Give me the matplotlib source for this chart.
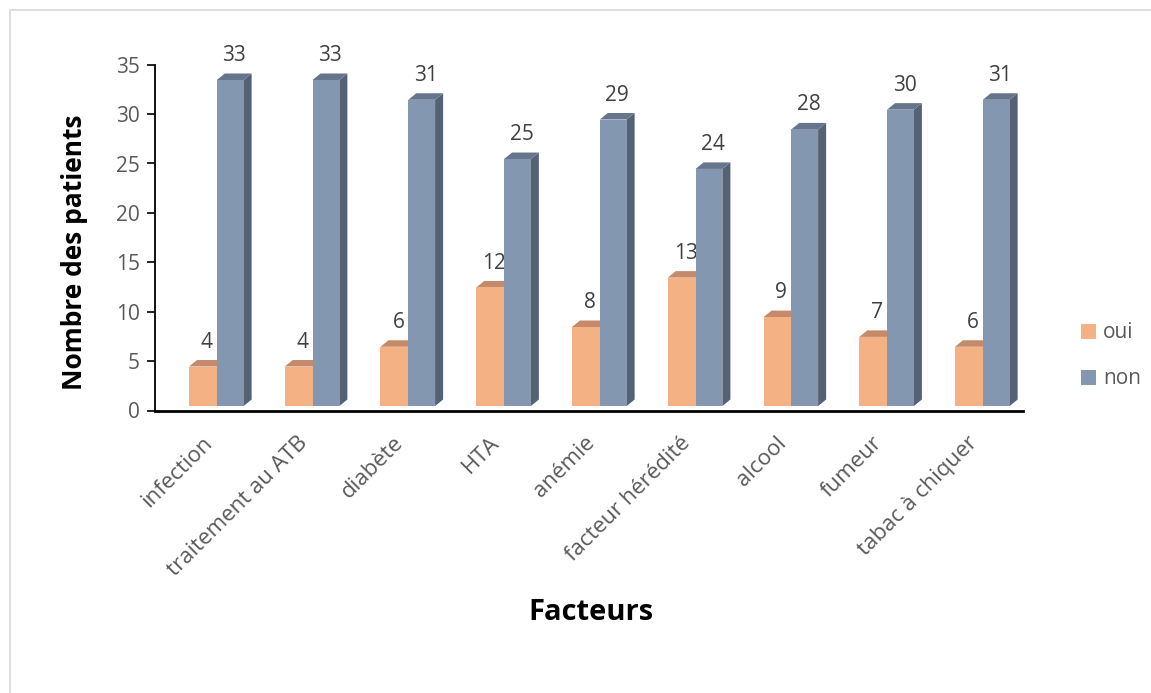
import numpy as np
import matplotlib
matplotlib.use("Agg")
import matplotlib.pyplot as plt
from matplotlib.patches import Polygon, Rectangle, Patch

plt.rcParams['font.family'] = ['Open Sans', 'DejaVu Sans']

# data
categories = ["infection", "traitement au ATB", "diabète", "HTA", "anémie",
              "facteur hérédité", "alcool", "fumeur", "tabac à chiquer"]
oui = [4, 4, 6, 12, 8, 13, 9, 7, 6]
non = [33, 33, 31, 25, 29, 24, 28, 30, 31]
series_names = ["oui", "non"]

# styles: front, top, side
c_oui = ("#F4B183", "#C48A69", "#A8735A")
c_non = ("#8497B0", "#65758C", "#556275")
txt_dark = "#404040"
txt_gray = "#595959"
fs = 15

fig = plt.figure(figsize=(11.51, 6.93), dpi=100)
ax = fig.add_axes([155/1151, 282.5/693, 868/1151, 345.8/693])

base = 0.45
dx, dy = 0.084, 0.66
w_oui, w_non = 0.29, 0.28


def bar3d(x0, w, val, cols):
    front, top, side = cols
    ax.add_patch(Polygon([(x0 + w, base), (x0 + w + dx, base + dy),
                          (x0 + w + dx, base + val + dy), (x0 + w, base + val)],
                         closed=True, fc=side, ec='none', zorder=2))
    ax.add_patch(Polygon([(x0, base + val), (x0 + dx, base + val + dy),
                          (x0 + w + dx, base + val + dy), (x0 + w, base + val)],
                         closed=True, fc=top, ec='none', zorder=2))
    ax.add_patch(Rectangle((x0, base), w, val, fc=front, ec='none', zorder=3))
    ax.text(x0 + (w + dx) / 2, base + val + dy + 0.75, str(val),
            ha='center', va='bottom', fontsize=fs, color=txt_dark)


for i in range(len(categories)):
    x_o = i - 0.15
    bar3d(x_o, w_oui, oui[i], c_oui)
    bar3d(x_o + w_oui, w_non, non[i], c_non)

ax.set_xlim(-0.505, 8.56)
ax.set_ylim(0, 35)
ax.set_yticks(np.arange(0, 36, 5))
ax.tick_params(axis='y', direction='out', length=6, width=1.2, colors='black',
               labelcolor=txt_gray, labelsize=fs, pad=5)
ax.set_xticks([])
for s in ['top', 'right']:
    ax.spines[s].set_visible(False)
ax.spines['left'].set_linewidth(1.3)
ax.spines['bottom'].set_linewidth(2.0)

for i, lab in enumerate(categories):
    ax.text(i - 0.02, -2.2, lab, rotation=45, ha='right', va='top',
            rotation_mode='anchor', fontsize=16, color=txt_gray)

fig.text(75/1151, 1 - 252/693, "Nombre des patients", rotation=90,
         ha='center', va='center', fontsize=19, fontweight='bold', color='black')
fig.text(591/1151, 1 - 612/693, "Facteurs", ha='center', va='center',
         fontsize=21, fontweight='bold', color='black')

handles = [Patch(fc=c_oui[0], ec='none'), Patch(fc=c_non[0], ec='none')]
fig.legend(handles, series_names, loc='center left',
           bbox_to_anchor=(1081/1151, 1 - 356/693), frameon=False,
           fontsize=fs, labelcolor=txt_gray, handlelength=0.7,
           handleheight=0.7, handletextpad=0.35, labelspacing=1.2,
           borderpad=0, borderaxespad=0)

# chart frame
fig.add_artist(Rectangle((10/1151, -0.05), 1.2, 1 - 10/693 + 0.05,
                         transform=fig.transFigure, fill=False,
                         ec='#D9D9D9', lw=1.2))

fig.savefig("out.png", dpi=100)
